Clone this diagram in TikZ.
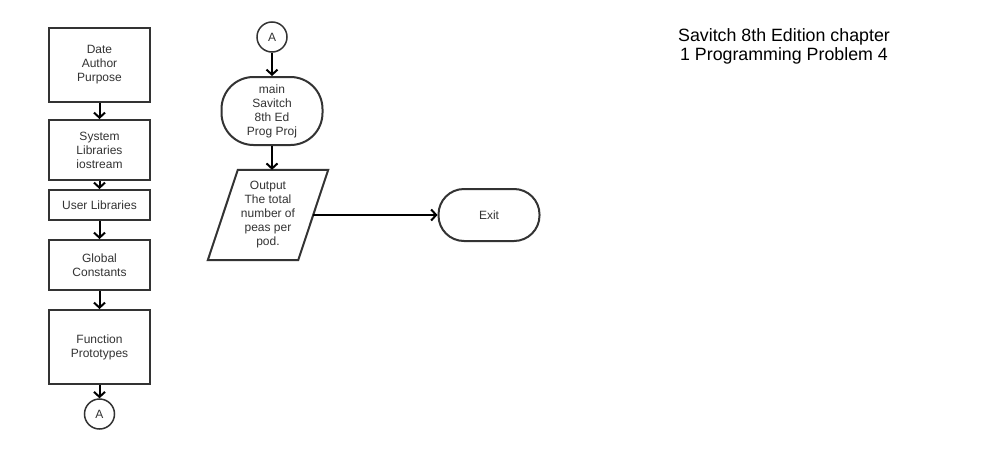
\documentclass[tikz,border=0pt]{standalone}
\usepackage{fontspec}
\setmainfont{Liberation Sans}
\usetikzlibrary{arrows.meta}
\begin{document}
\begin{tikzpicture}[x=1pt,y=-1pt,
  every node/.style={font=\fontsize{12}{14}\selectfont, text=black!80, align=center, inner sep=0pt},
  box/.style={draw=black!80, line width=2pt, minimum width=101pt},
  conn/.style={circle, draw=black!80, line width=1.5pt, minimum size=30pt},
  term/.style={draw=black!80, line width=2pt, minimum width=101pt},
  flow/.style={line width=2pt, black, -{Straight Barb[length=5pt,width=11pt,line width=2pt]}}
]
\useasboundingbox (0,0) rectangle (998,450);
\fill[white] (0,0) rectangle (998,450);
% left column
\node[box, minimum height=74pt] (b1) at (99.5,65) {Date\\Author\\Purpose};
\node[box, minimum height=60pt] (b2) at (99.5,150) {System\\Libraries\\iostream};
\node[box, minimum height=30pt] (b3) at (99.5,205) {User Libraries};
\node[box, minimum height=50pt] (b4) at (99.5,265) {Global\\Constants};
\node[box, minimum height=74pt] (b5) at (99.5,347) {Function\\Prototypes};
\node[conn] (c1) at (99.5,414) {A};
\draw[flow] (b1) -- (b2);
\draw[flow] (b2) -- (b3);
\draw[flow] (b3) -- (b4);
\draw[flow] (b4) -- (b5);
\draw[flow] (b5) -- (c1);
% middle column
\node[conn] (c2) at (272,37) {A};
\node[term, rounded corners=32pt, minimum height=68pt] (main) at (272,111) {main\\Savitch\\8th Ed\\Prog Proj};
\node[minimum width=90pt, minimum height=90pt] (para) at (268,215) {Output\\The total\\number of\\peas per\\pod.};
\draw[draw=black!80, line width=2pt, line join=miter]
  ([xshift=15pt]para.north west) -- ([xshift=15pt]para.north east) --
  ([xshift=-15pt]para.south east) -- ([xshift=-15pt]para.south west) -- cycle;
\node[term, rounded corners=25.5pt, minimum height=52pt] (exit) at (489,215) {Exit};
\draw[flow] (c2) -- (main);
\draw[flow] (main) -- (main |- para.north);
\draw[flow] (para.east) -- (exit);
% title
\node[font=\fontsize{17.8}{19}\selectfont, text=black] (title) at (784,46) {Savitch 8th Edition chapter\\1 Programming Problem 4};
\end{tikzpicture}
\end{document}
